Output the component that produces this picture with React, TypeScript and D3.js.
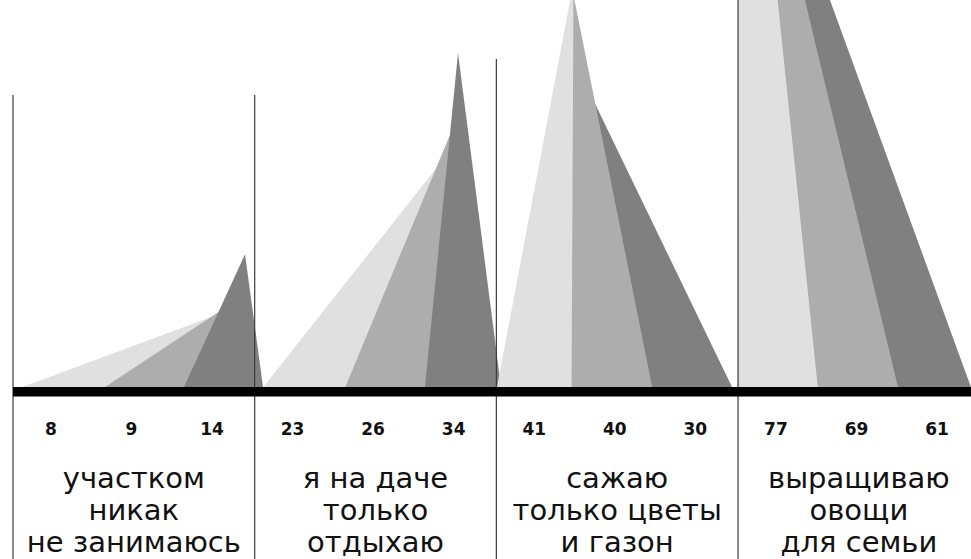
import React from 'react';
import * as d3 from 'd3';

// ---- data ----
const categories: string[][] = [
  ['участком', 'никак', 'не занимаюсь'],
  ['я на даче', 'только', 'отдыхаю'],
  ['сажаю', 'только цветы', 'и газон'],
  ['выращиваю', 'овощи', 'для семьи'],
];
const lightValues = [8, 23, 41, 77];
const mediumValues = [9, 26, 40, 69];
const darkValues = [14, 34, 30, 61];

// triangle outline, in slot units relative to the triangle's own slot start
const baseStart = [
  [-0.149, -0.008, 0.077],
  [0.029, 0.084, 0.104],
  [-0.011, -0.458, -0.465],
  [0.0, -0.045, -0.052],
];
const apexAt = [
  [2.545, 1.692, 0.88],
  [2.3, 1.431, 0.524],
  [0.958, -0.049, -0.838],
  [0.003, -1.063, -1.848],
];
const baseEnd = [
  [1.08, 1.135, 1.117],
  [1.183, 1.176, 1.07],
  [0.933, 0.954, 0.973],
  [1.0, 1.009, 0.927],
];

const W = 971;
const H = 559;
const COLORS = ['#e0e0e0', '#adadad', '#808080'];

export default function App() {
  const slots = 12;
  const x = d3.scaleLinear().domain([0, slots]).range([13, 13 + slots * 80.56]);
  const y = d3.scaleLinear().domain([0, 10]).range([395, 395 - 100.6]);
  const line = d3.line<[number, number]>();

  const series = [lightValues, mediumValues, darkValues];

  type Tri = { d: string; fill: string; key: string };
  const tris: Tri[] = [];
  categories.forEach((_, g) => {
    const items = [0, 1, 2].map((s) => ({ s, v: series[s][g] }));
    const ordered = items.slice().sort((a, b) => a.v - b.v);
    ordered.forEach(({ s, v }) => {
      const slot0 = g * 3 + s;
      const pts: [number, number][] = [
        [x(slot0 + baseStart[g][s]), y(0)],
        [x(slot0 + apexAt[g][s]), y(v)],
        [x(slot0 + baseEnd[g][s]), y(0)],
      ];
      tris.push({ d: line(pts) + 'Z', fill: COLORS[s], key: `${g}-${s}` });
    });
  });

  const sepTops = [95, 95, 59, -2];
  const labelFont = '"DejaVu Sans", "Noto Sans", sans-serif';

  return (
    <svg
      width={W}
      height={H}
      viewBox={`0 0 ${W} ${H}`}
      style={{ position: 'absolute', left: 0, top: 0, background: '#fff' }}
    >
      <defs>
        <clipPath id="plot">
          <rect x={x(0)} y={-1000} width={W - x(0)} height={1000 + y(0)} />
        </clipPath>
      </defs>
      <g clipPath="url(#plot)">
        {tris.map((t) => (
          <path key={t.key} d={t.d} fill={t.fill} />
        ))}
      </g>
      {categories.map((_, g) => (
        <line
          key={'sep' + g}
          x1={x(g * 3)}
          x2={x(g * 3)}
          y1={sepTops[g]}
          y2={H}
          stroke="#3a3a3a"
          strokeWidth={1.2}
        />
      ))}
      <rect x={x(0)} y={387} width={W - x(0)} height={9.5} fill="#000" />
      {categories.map((_, g) =>
        [0, 1, 2].map((s) => (
          <text
            key={`v${g}-${s}`}
            x={x(g * 3 + s + 0.47)}
            y={435}
            textAnchor="middle"
            fontFamily={labelFont}
            fontWeight="bold"
            fontSize={17}
            fill="#111"
          >
            {series[s][g]}
          </text>
        ))
      )}
      {categories.map((lines, g) =>
        lines.map((t, i) => (
          <text
            key={`c${g}-${i}`}
            x={x(g * 3 + 1.5)}
            y={488 + i * 32}
            textAnchor="middle"
            fontFamily={labelFont}
            fontSize={29}
            fill="#111"
          >
            {t}
          </text>
        ))
      )}
    </svg>
  );
}
